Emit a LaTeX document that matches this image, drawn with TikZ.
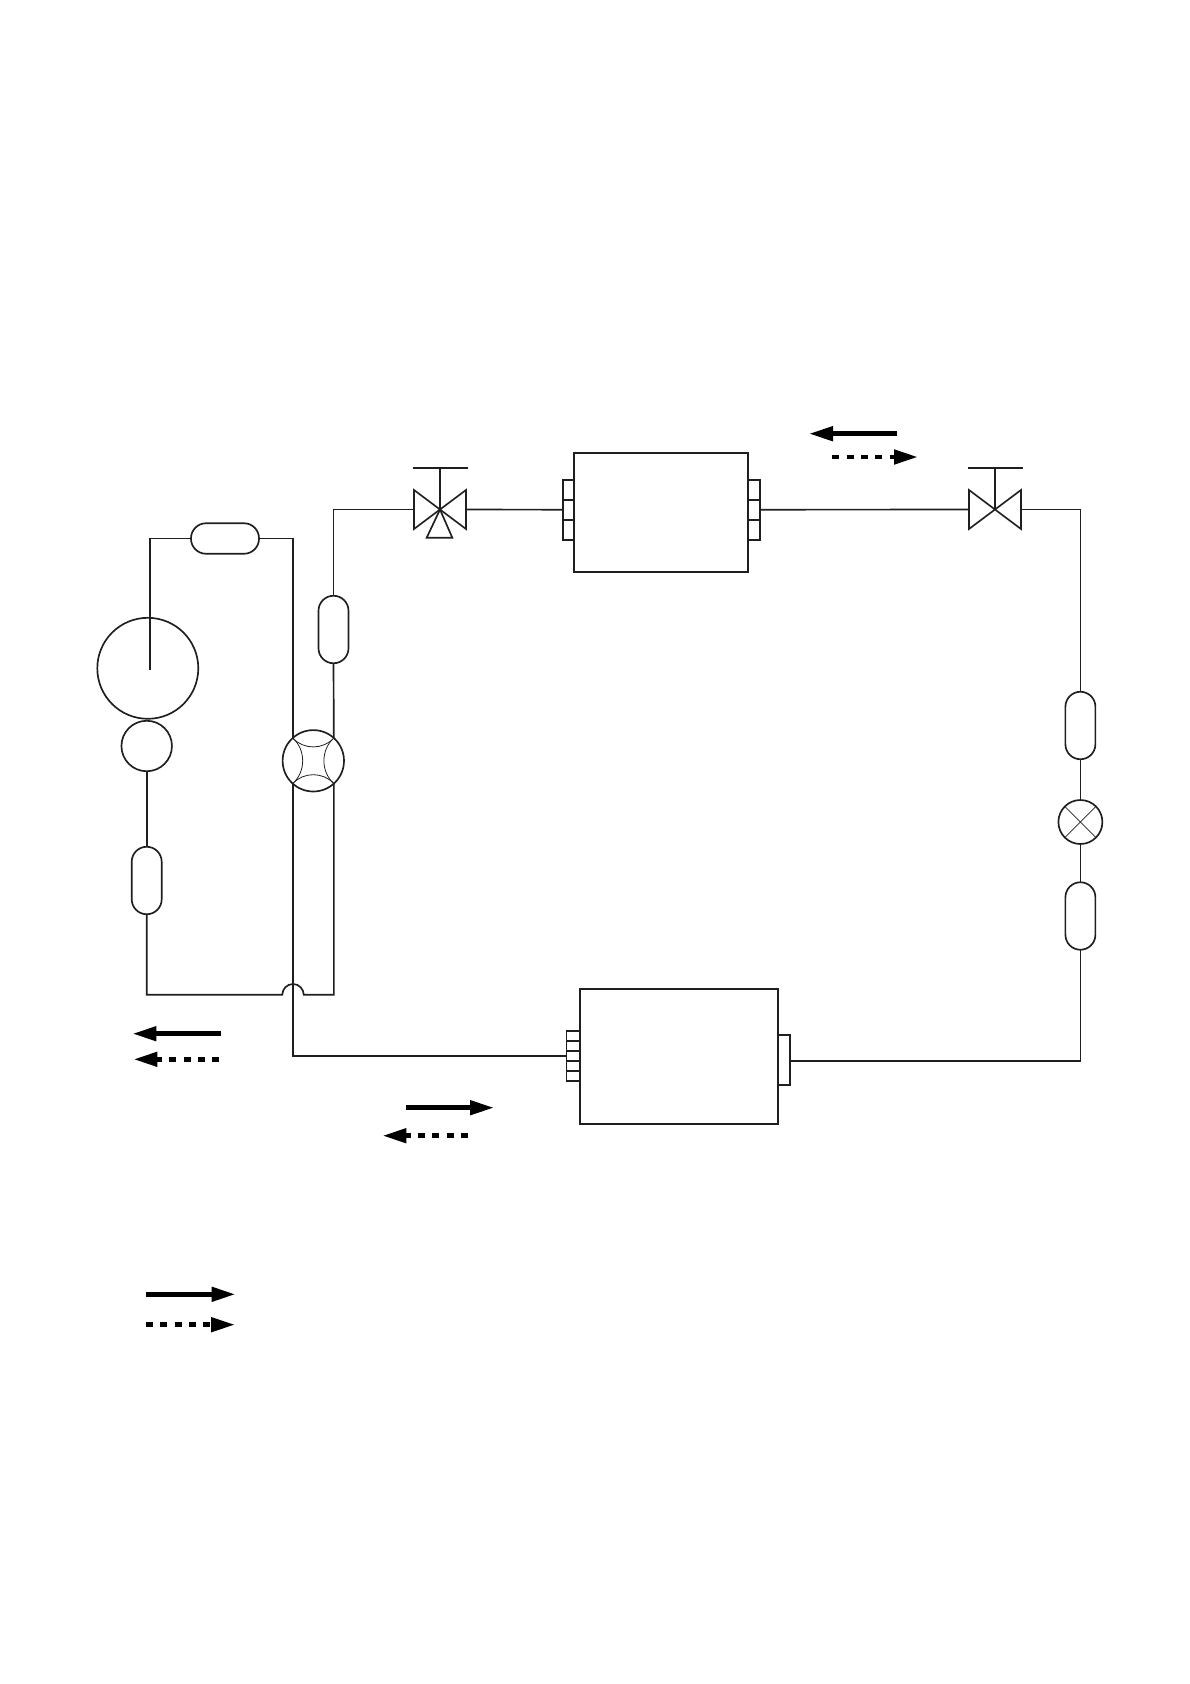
\documentclass[tikz,border=0pt]{standalone}
\usepackage{tikz}
\usetikzlibrary{arrows.meta}

\tikzset{
  wire/.style={draw=black!88, line width=0.95pt, line join=miter},
  thinwire/.style={draw=black!88, line width=0.45pt},
  pill/.style={wire, shape=rectangle, rounded corners=0.3cm, inner sep=0pt, outer sep=0pt},
  hpill/.style={pill, minimum width=1.36cm, minimum height=0.61cm},
  vpill/.style={pill, minimum width=0.6cm, minimum height=1.35cm},
  unit/.style={wire, shape=rectangle, inner sep=0pt, outer sep=0pt},
  round/.style={wire, shape=circle, inner sep=0pt, outer sep=0pt},
  flow/.style={line width=2.7pt, -{Triangle[length=0.48cm,width=0.28cm]}},
  dashflow/.style={flow, dash pattern=on 0.14cm off 0.147cm},
  valve/.pic={
    \draw[wire] (-26,-19.5) -- (26,19.5) -- (26,-19.5) -- (-26,19.5) -- cycle;
    \draw[wire] (-27.5,-41.5) -- (27.5,-41.5) (0,-41.5) -- (0,0);
    \coordinate (-west) at (-26,0);
    \coordinate (-east) at (26,0);
  }
}

\begin{document}
\begin{tikzpicture}[x=0.02cm, y=-0.02cm]
  \useasboundingbox (0,0) rectangle (1190,1684);

  % compressor side
  \node[round, minimum size=2.02cm] (comp) at (147.8,668.3) {};
  \node[round, minimum size=1.01cm] (motor) at (146.7,746) {};
  \coordinate (shaft) at (150,670);
  \node[hpill] (pillTop) at (225,538.5) {};
  \node[vpill] (pillLow) at (146.7,880.5) {};
  \node[vpill] (pillMid) at (333.5,629.5) {};
  \node[round, minimum size=1.228cm] (fourway) at (313.3,760.8) {};

  % indoor and outdoor units
  \node[unit, minimum width=3.486cm, minimum height=2.386cm] (upper) at (660.8,512.3) {};
  \foreach \i/\py in {1/489.7,2/509.7,3/529.7} {
    \node[unit, minimum width=0.22cm, minimum height=0.4cm] (upperL\i) at (568.2,\py) {};
    \node[unit, minimum width=0.24cm, minimum height=0.4cm] (upperR\i) at (754.1,\py) {};
  }
  \node[unit, minimum width=3.96cm, minimum height=2.7cm] (lower) at (679,1056.5) {};
  \foreach \i/\py in {1/1035.7,2/1045.8,3/1055.9,4/1066,5/1076} {
    \node[unit, minimum width=0.266cm, minimum height=0.2cm] (lowerL\i) at (573.3,\py) {};
  }
  \node[unit, minimum width=0.24cm, minimum height=1.008cm] (lowerR) at (784,1059.9) {};
  \coordinate (lowerRport) at (790,1061);

  % valves
  \pic (valveA) at (440,509.5) {valve};
  \coordinate (valveAc) at (440,509.5);
  \draw[wire] (valveAc) -- ++(-13.3,28.2) -- ++(25.6,0) -- cycle;
  \pic (valveB) at (995,509.5) {valve};

  % right branch
  \node[vpill] (pillE) at (1080.4,725.5) {};
  \node[round, minimum size=0.88cm] (expand) at (1080.4,822) {};
  \foreach \a in {45,135,225,315} \draw[thinwire] (expand.center) -- (expand.\a);
  \node[vpill] (pillF) at (1080.4,916) {};

  % four way valve inside
  \foreach \a/\b in {132/48,48/312,312/228,228/132}
    \draw[thinwire] (fourway.\a) to[bend right=48] (fourway.\b);

  % pipework
  \coordinate (jumpW) at (282.3,994.7);
  \coordinate (jumpE) at (303.7,994.7);
  \draw[wire] (shaft) |- (pillTop.west);
  \draw[wire] (pillTop.east) -| (fourway.132);
  \draw[wire] (motor.south) -- (pillLow.north);
  \draw[wire] (pillLow.south) |- (jumpW) arc[start angle=180, end angle=360, radius=10.7] -- (jumpE) -| (fourway.312);
  \draw[wire] (fourway.228) |- (lowerL3.west);
  \draw[wire] (fourway.48) -- (pillMid.south);
  \draw[wire] (pillMid.north) |- (valveA-west);
  \draw[wire] (valveA-east) -- (upperL2.west);
  \draw[wire] (upperR2.east) -- (valveB-west);
  \draw[wire] (valveB-east) -| (pillE.north);
  \draw[wire] (pillE.south) -- (expand.north);
  \draw[wire] (expand.south) -- (pillF.north);
  \draw[wire] (pillF.south) |- (lowerRport);

  % flow arrows
  \foreach \i/\tailx/\tipx/\flowy in {1/897.3/809/433.7,2/221.3/132.5/1033.7,3/406/494/1107.7,4/146/235.5/1294.3} {
    \coordinate (solidS\i) at (\tailx,\flowy);
    \coordinate (solidE\i) at (\tipx,\flowy);
    \draw[flow] (solidS\i) -- (solidE\i);
  }
  \foreach \i/\tailx/\tipx/\flowy in {1/832.3/918/457,2/219.3/133.5/1059.3,3/468/382.5/1135.7,4/146/235/1324.7} {
    \coordinate (dashS\i) at (\tailx,\flowy);
    \coordinate (dashE\i) at (\tipx,\flowy);
    \draw[dashflow] (dashS\i) -- (dashE\i);
  }
\end{tikzpicture}
\end{document}
